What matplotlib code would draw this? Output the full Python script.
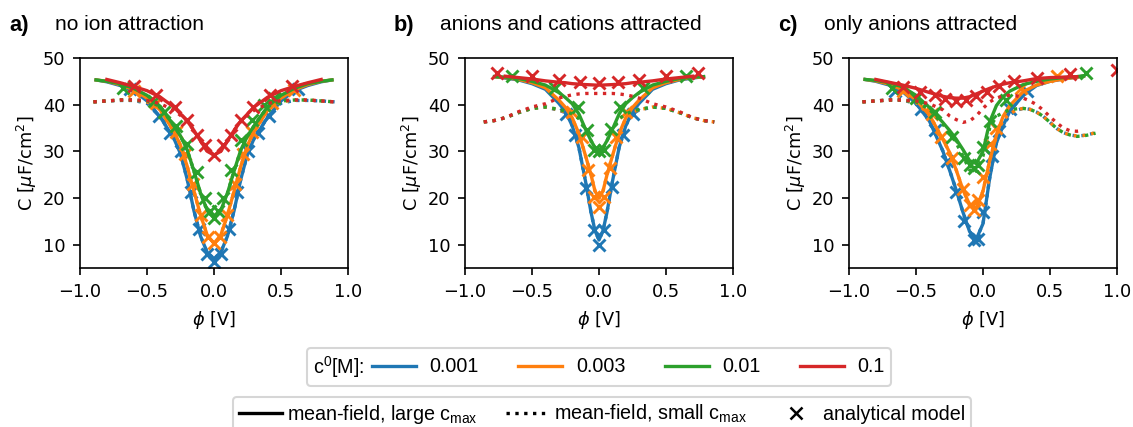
import matplotlib
matplotlib.use("Agg")
import matplotlib.pyplot as plt
import numpy as np
from matplotlib.lines import Line2D
from matplotlib.offsetbox import HPacker

nan = np.nan
conc_labels = ["0.001", "0.003", "0.01", "0.1"]
colors = ["tab:blue", "tab:orange", "tab:green", "tab:red"]
tags = ["a)", "b)", "c)"]
titles = ["no ion attraction", "anions and cations attracted", "only anions attracted"]

# ---- a) no ion attraction ----
a_phi_solid = [-0.88, -0.8, -0.7, -0.6, -0.5, -0.4, -0.3, -0.25, -0.2, -0.15, -0.1, -0.05, 0,
               0.05, 0.1, 0.15, 0.2, 0.25, 0.3, 0.4, 0.5, 0.6, 0.7, 0.8, 0.88]
a_C_solid = [
    [45.3, 44.9, 44.1, 43.0, 40.8, 37.3, 32.8, 29.5, 24.0, 17.3, 11.8, 8.3, 7.0,
     8.3, 11.8, 17.3, 24.0, 29.5, 32.8, 37.3, 40.8, 43.0, 44.1, 44.9, 45.3],
    [45.3, 45.0, 44.3, 43.2, 41.4, 38.8, 34.3, 31.3, 26.8, 21.5, 16.3, 12.0, 10.3,
     12.0, 16.3, 21.5, 26.8, 31.3, 34.3, 38.8, 41.4, 43.2, 44.3, 45.0, 45.3],
    [45.3, 45.0, 44.5, 43.5, 42.0, 39.6, 35.5, 33.3, 30.3, 25.8, 21.0, 17.3, 15.7,
     17.3, 21.0, 25.8, 30.3, 33.3, 35.5, 39.6, 42.0, 43.5, 44.5, 45.0, 45.3],
    [nan, 45.4, 44.7, 43.9, 43.0, 41.6, 39.5, 38.0, 36.5, 34.5, 32.2, 30.0, 29.2,
     30.0, 32.2, 34.5, 36.5, 38.0, 39.5, 41.6, 43.0, 43.9, 44.7, 45.4, nan],
]
a_phi_dot = [-0.9, -0.8, -0.7, -0.6, -0.5, -0.45, -0.4, -0.3, -0.25, -0.2, -0.15, -0.1, -0.05, 0,
             0.05, 0.1, 0.15, 0.2, 0.25, 0.3, 0.4, 0.45, 0.5, 0.6, 0.7, 0.8, 0.9]
a_C_dot = [
    [40.6, 40.8, 40.9, 40.9, 40.3, 39.0, 37.3, 32.8, 29.5, 24.0, 17.3, 11.8, 8.3, 7.0,
     8.3, 11.8, 17.3, 24.0, 29.5, 32.8, 37.3, 39.0, 40.3, 40.9, 40.9, 40.8, 40.6],
    [40.6, 40.8, 41.0, 41.0, 40.6, 39.8, 38.8, 34.3, 31.3, 26.8, 21.5, 16.3, 12.0, 10.3,
     12.0, 16.3, 21.5, 26.8, 31.3, 34.3, 38.8, 39.8, 40.6, 41.0, 41.0, 40.8, 40.6],
    [40.6, 40.8, 41.0, 41.0, 40.8, 40.3, 39.5, 35.5, 33.3, 30.3, 25.8, 21.0, 17.3, 15.7,
     17.3, 21.0, 25.8, 30.3, 33.3, 35.5, 39.5, 40.3, 40.8, 41.0, 41.0, 40.8, 40.6],
    [40.6, 40.8, 41.0, 41.0, 40.9, 40.6, 40.2, 38.8, 37.7, 36.4, 34.5, 32.2, 30.0, 29.2,
     30.0, 32.2, 34.5, 36.4, 37.7, 38.8, 40.2, 40.6, 40.9, 41.0, 41.0, 40.8, 40.6],
]
a_phi_x = [
    [-0.63, -0.41, -0.33, -0.25, -0.17, -0.11, -0.05, 0, 0.05, 0.11, 0.17, 0.25, 0.33, 0.41, 0.63],
    [-0.6, -0.43, -0.28, -0.22, -0.16, -0.095, -0.045, 0, 0.045, 0.095, 0.16, 0.22, 0.28, 0.43, 0.6],
    [-0.68, -0.45, -0.37, -0.28, -0.2, -0.13, -0.07, -0.03, 0, 0.03, 0.07, 0.13, 0.2, 0.28, 0.37, 0.45],
    [-0.6, -0.43, -0.29, -0.2, -0.13, -0.07, 0, 0.07, 0.13, 0.2, 0.29, 0.42, 0.58],
]
a_C_x = [
    [43.4, 37.5, 34.0, 30.0, 21.3, 13.3, 8.0, 6.3, 8.0, 13.3, 21.3, 30.0, 34.0, 37.5, 43.4],
    [43.0, 40.3, 34.2, 29.5, 22.9, 16.4, 11.7, 10.3, 11.7, 16.4, 22.9, 29.5, 34.2, 40.3, 43.2],
    [43.5, 40.8, 38.5, 35.5, 31.5, 25.5, 20.0, 17.2, 15.8, 17.2, 20.0, 26.0, 32.5, 36.8, 40.0, 41.5],
    [43.9, 42.1, 39.5, 36.7, 33.5, 31.4, 29.2, 31.4, 33.5, 36.8, 39.6, 42.1, 43.9],
]

# ---- b) anions and cations attracted ----
b_phi_solid = [-0.78, -0.7, -0.6, -0.5, -0.4, -0.3, -0.25, -0.2, -0.15, -0.1, -0.06, -0.03, 0,
               0.03, 0.06, 0.1, 0.15, 0.2, 0.25, 0.3, 0.4, 0.5, 0.6, 0.7, 0.78]
b_C_solid = [
    [46.0, 45.7, 45.3, 44.5, 43.3, 40.3, 38.5, 35.5, 30.8, 23.5, 17.0, 13.0, 11.0,
     13.0, 17.0, 23.5, 30.8, 35.5, 38.5, 40.3, 43.3, 44.5, 45.3, 45.7, 46.0],
    [46.0, 45.8, 45.4, 44.7, 43.6, 41.0, 39.4, 37.2, 33.8, 29.0, 25.0, 21.5, 20.0,
     21.5, 25.0, 29.0, 33.8, 37.2, 39.4, 41.0, 43.6, 44.7, 45.4, 45.8, 46.0],
    [46.0, 45.9, 45.6, 45.0, 44.2, 42.6, 41.5, 40.2, 38.0, 34.7, 32.3, 30.8, 30.3,
     30.8, 32.3, 34.7, 38.0, 40.2, 41.5, 42.6, 44.2, 45.0, 45.6, 45.9, 46.0],
    [nan, 46.1, 45.8, 45.5, 45.1, 44.8, 44.7, 44.5, 44.4, 44.3, 44.25, 44.2, 44.2,
     44.2, 44.25, 44.3, 44.4, 44.5, 44.7, 44.8, 45.1, 45.5, 45.8, 46.1, nan],
]
b_phi_dot = [-0.86, -0.78, -0.7, -0.6, -0.5, -0.4, -0.3, -0.25, -0.2, -0.15, -0.1, -0.06, -0.03, 0,
             0.03, 0.06, 0.1, 0.15, 0.2, 0.25, 0.3, 0.4, 0.5, 0.6, 0.7, 0.78, 0.86]
b_C_dot = [
    [36.3, 36.6, 37.2, 38.3, 39.2, 39.5, 38.8, 38.3, 35.5, 30.8, 23.5, 17.0, 13.0, 11.0,
     13.0, 17.0, 23.5, 30.8, 35.5, 38.3, 38.8, 39.5, 39.2, 38.3, 37.2, 36.6, 36.3],
    [36.3, 36.6, 37.2, 38.3, 39.2, 39.5, 38.9, 38.4, 37.0, 33.8, 29.0, 25.0, 21.5, 20.0,
     21.5, 25.0, 29.0, 33.8, 37.0, 38.4, 38.9, 39.5, 39.2, 38.3, 37.2, 36.6, 36.3],
    [36.3, 36.6, 37.2, 38.3, 39.2, 39.5, 39.0, 38.6, 38.0, 37.0, 34.7, 32.3, 30.8, 30.3,
     30.8, 32.3, 34.7, 37.0, 38.0, 38.6, 39.0, 39.5, 39.2, 38.3, 37.2, 36.6, 36.3],
    [36.3, 36.6, 37.2, 38.5, 39.5, 40.2, 41.4, 41.8, 42.1, 42.3, 42.4, 42.4, 42.4, 42.4,
     42.4, 42.4, 42.4, 42.3, 42.1, 41.8, 41.4, 40.2, 39.5, 38.5, 37.2, 36.6, 36.3],
]
b_phi_x = [
    [-0.25, -0.18, -0.1, -0.04, 0, 0.04, 0.1, 0.18, 0.25],
    [-0.2, -0.13, -0.08, -0.04, 0, 0.04, 0.08, 0.13, 0.2],
    [-0.65, -0.33, -0.16, -0.09, -0.04, 0, 0.04, 0.09, 0.16, 0.33, 0.65],
    [-0.76, -0.5, -0.3, -0.14, 0, 0.14, 0.3, 0.5, 0.74],
]
b_C_x = [
    [38.0, 33.5, 22.2, 13.1, 9.9, 13.1, 22.4, 33.5, 38.0],
    [38.5, 33.0, 26.0, 20.3, 18.1, 20.3, 26.4, 33.0, 38.5],
    [46.2, 43.5, 39.6, 34.6, 30.3, 30.0, 30.3, 34.8, 39.6, 43.5, 46.2],
    [46.8, 46.1, 45.3, 44.9, 44.7, 44.9, 45.3, 46.1, 46.8],
]

# ---- c) only anions attracted ----
c_phi_solid = [-0.88, -0.8, -0.7, -0.6, -0.5, -0.4, -0.3, -0.25, -0.2, -0.15, -0.1, -0.05, 0,
               0.05, 0.1, 0.15, 0.2, 0.3, 0.4, 0.5, 0.6, 0.7, 0.75]
c_C_solid = [
    [45.4, 45.0, 44.2, 42.8, 40.3, 36.5, 30.1, 26.0, 21.7, 17.0, 12.8, 11.2, 14.5,
     24.3, 31.8, 35.5, 38.6, 42.0, 44.1, 45.0, 45.5, 45.9, 46.1],
    [45.4, 45.1, 44.4, 43.2, 41.0, 37.8, 32.6, 29.8, 26.0, 21.8, 18.6, 17.8, 21.5,
     28.0, 33.5, 37.5, 39.8, 42.8, 44.2, 45.0, 45.5, 45.9, 46.1],
    [45.4, 45.2, 44.7, 43.8, 42.0, 39.4, 36.2, 34.5, 32.6, 30.4, 28.0, 27.4, 30.0,
     36.3, 39.8, 41.7, 42.9, 44.3, 45.0, 45.5, 45.8, 46.0, 46.2],
    [nan, 45.4, 44.8, 44.2, 43.5, 42.6, 41.8, 41.5, 41.4, 41.4, 41.7, 42.3, 42.9,
     43.5, 44.0, 44.4, 44.7, 45.1, 45.6, 45.8, 45.9, 46.0, nan],
]
c_phi_dot = [-0.9, -0.8, -0.7, -0.6, -0.5, -0.4, -0.3, -0.25, -0.2, -0.15, -0.1, -0.05, 0,
             0.05, 0.1, 0.15, 0.2, 0.25, 0.3, 0.35, 0.4, 0.45, 0.5, 0.55, 0.6, 0.65, 0.7, 0.75, 0.8, 0.84]
c_C_dot = [
    [40.6, 40.8, 41.0, 41.0, 40.2, 36.5, 30.1, 26.0, 21.7, 17.0, 12.8, 11.2, 14.5,
     24.3, 31.8, 35.5, 37.8, 38.8, 39.2, 39.0, 38.4, 37.5, 36.2, 34.9, 34.0, 33.5, 33.3, 33.4, 33.7, 34.0],
    [40.6, 40.8, 41.0, 41.0, 40.5, 37.8, 32.6, 29.8, 26.0, 21.8, 18.6, 17.8, 21.5,
     28.0, 33.5, 36.8, 38.0, 38.9, 39.2, 39.0, 38.4, 37.5, 36.2, 34.9, 34.0, 33.5, 33.3, 33.4, 33.7, 34.0],
    [40.6, 40.8, 41.0, 41.0, 40.6, 39.0, 35.8, 34.0, 31.8, 29.0, 26.0, 25.3, 29.0,
     35.0, 37.5, 38.3, 38.9, 39.1, 39.2, 39.0, 38.4, 37.5, 36.2, 34.9, 34.0, 33.5, 33.2, 33.3, 33.6, 33.9],
    [40.6, 40.8, 41.0, 41.0, 40.8, 40.2, 38.9, 37.6, 36.8, 36.2, 36.5, 37.6, 39.2,
     40.6, 41.4, 41.9, 42.0, 41.9, 41.4, 40.8, 40.0, 38.8, 37.4, 36.1, 35.0, 34.4, 34.3, 34.5, nan, nan],
]
c_phi_x = [
    [-0.66, -0.46, -0.36, -0.27, -0.2, -0.14, -0.07, -0.04, 0.0, 0.07, 0.12, 0.2, 0.33],
    [-0.6, -0.38, -0.31, -0.23, -0.15, -0.1, -0.07, -0.04, 0.0, 0.05, 0.1, 0.28, 0.55],
    [-0.68, -0.5, -0.36, -0.23, -0.14, -0.1, -0.07, -0.04, 0.0, 0.05, 0.17, 0.77],
    [-0.6, -0.47, -0.36, -0.28, -0.2, -0.13, -0.05, 0.03, 0.12, 0.23, 0.4, 0.65, 1.0],
]
c_C_x = [
    [43.0, 39.0, 34.5, 28.0, 21.3, 15.0, 11.0, 11.3, 17.1, 28.9, 34.3, 39.0, 43.0],
    [43.0, 38.0, 33.0, 28.5, 22.0, 18.5, 17.5, 19.5, 24.5, 31.5, 35.0, 43.5, 46.2],
    [43.5, 41.5, 38.5, 33.0, 28.5, 27.0, 26.5, 27.0, 31.0, 36.5, 41.0, 46.7],
    [43.8, 42.8, 42.0, 41.2, 40.7, 41.0, 41.8, 42.8, 44.0, 45.0, 45.8, 46.6, 47.4],
]

panels = [
    (a_phi_solid, a_C_solid, a_phi_dot, a_C_dot, a_phi_x, a_C_x),
    (b_phi_solid, b_C_solid, b_phi_dot, b_C_dot, b_phi_x, b_C_x),
    (c_phi_solid, c_C_solid, c_phi_dot, c_C_dot, c_phi_x, c_C_x),
]

W, H = 1133, 427
plt.rcParams["font.size"] = 8.5
fig = plt.figure(figsize=(W / 150, H / 150), dpi=150)

lefts = [80, 465, 849]
for i, (ps, cs, pd, cd, px, cx) in enumerate(panels):
    ax = fig.add_axes([lefts[i] / W, 1 - 268 / H, 268 / W, 210 / H])
    for k in range(4):
        ax.plot(ps, cs[k], color=colors[k], lw=1.6)
        ax.plot(pd, cd[k], color=colors[k], lw=1.6, ls=":")
        ax.plot(px[k], cx[k], "x", color=colors[k], ms=5.5, mew=1.4)
    ax.set_xlim(-1, 1)
    ax.set_ylim(5, 50)
    ax.set_xticks([-1, -0.5, 0, 0.5, 1])
    ax.set_yticks([10, 20, 30, 40, 50])
    ax.set_xlabel(r"$\phi$ [V]")
    ax.set_ylabel(r"C [$\mu$F/cm$^2$]", labelpad=2)
    fig.text((lefts[i] - 71) / W, 1 - 25 / H, tags[i], va="center",
             family="Liberation Sans", weight="bold", fontsize=10.5)
    fig.text((lefts[i] - 25) / W, 1 - 25 / H, titles[i], va="center",
             family="Liberation Sans", fontsize=10)

# legends
lfont = {"family": "Liberation Sans", "size": 9.5}
conc_handles = [Line2D([], [], color=c, lw=1.6) for c in colors]
leg1 = fig.legend(conc_handles, conc_labels, loc="center",
                  bbox_to_anchor=(599 / W, 1 - 367 / H), ncol=4, prop=lfont,
                  title=r"c$^{\mathregular{0}}$[M]:", title_fontproperties=lfont,
                  handlelength=2.2, handletextpad=0.7, columnspacing=2.0,
                  borderpad=0.3, borderaxespad=0)
fs = leg1._fontsize
box = HPacker(pad=leg1.borderpad * fs, sep=0.4 * fs, align="center",
              children=[leg1._legend_title_box, leg1._legend_handle_box])
box.set_figure(fig)
box.set_offset(leg1._findoffset)
leg1._legend_box = box

style_handles = [Line2D([], [], color="k", lw=1.6),
                 Line2D([], [], color="k", lw=1.6, ls=":"),
                 Line2D([], [], color="k", ls="none", marker="x", ms=5.5, mew=1.2)]
style_labels = [r"mean-field, large c$_{\mathregular{max}}$",
                r"mean-field, small c$_{\mathregular{max}}$",
                "analytical model"]
fig.legend(style_handles, style_labels, loc="upper center",
           bbox_to_anchor=(602 / W, 1 - 397 / H), ncol=3, prop=lfont,
           handlelength=2.2, handletextpad=0.25, columnspacing=1.4,
           borderpad=0.3, borderaxespad=0)

fig.savefig("out.png", dpi=150)
